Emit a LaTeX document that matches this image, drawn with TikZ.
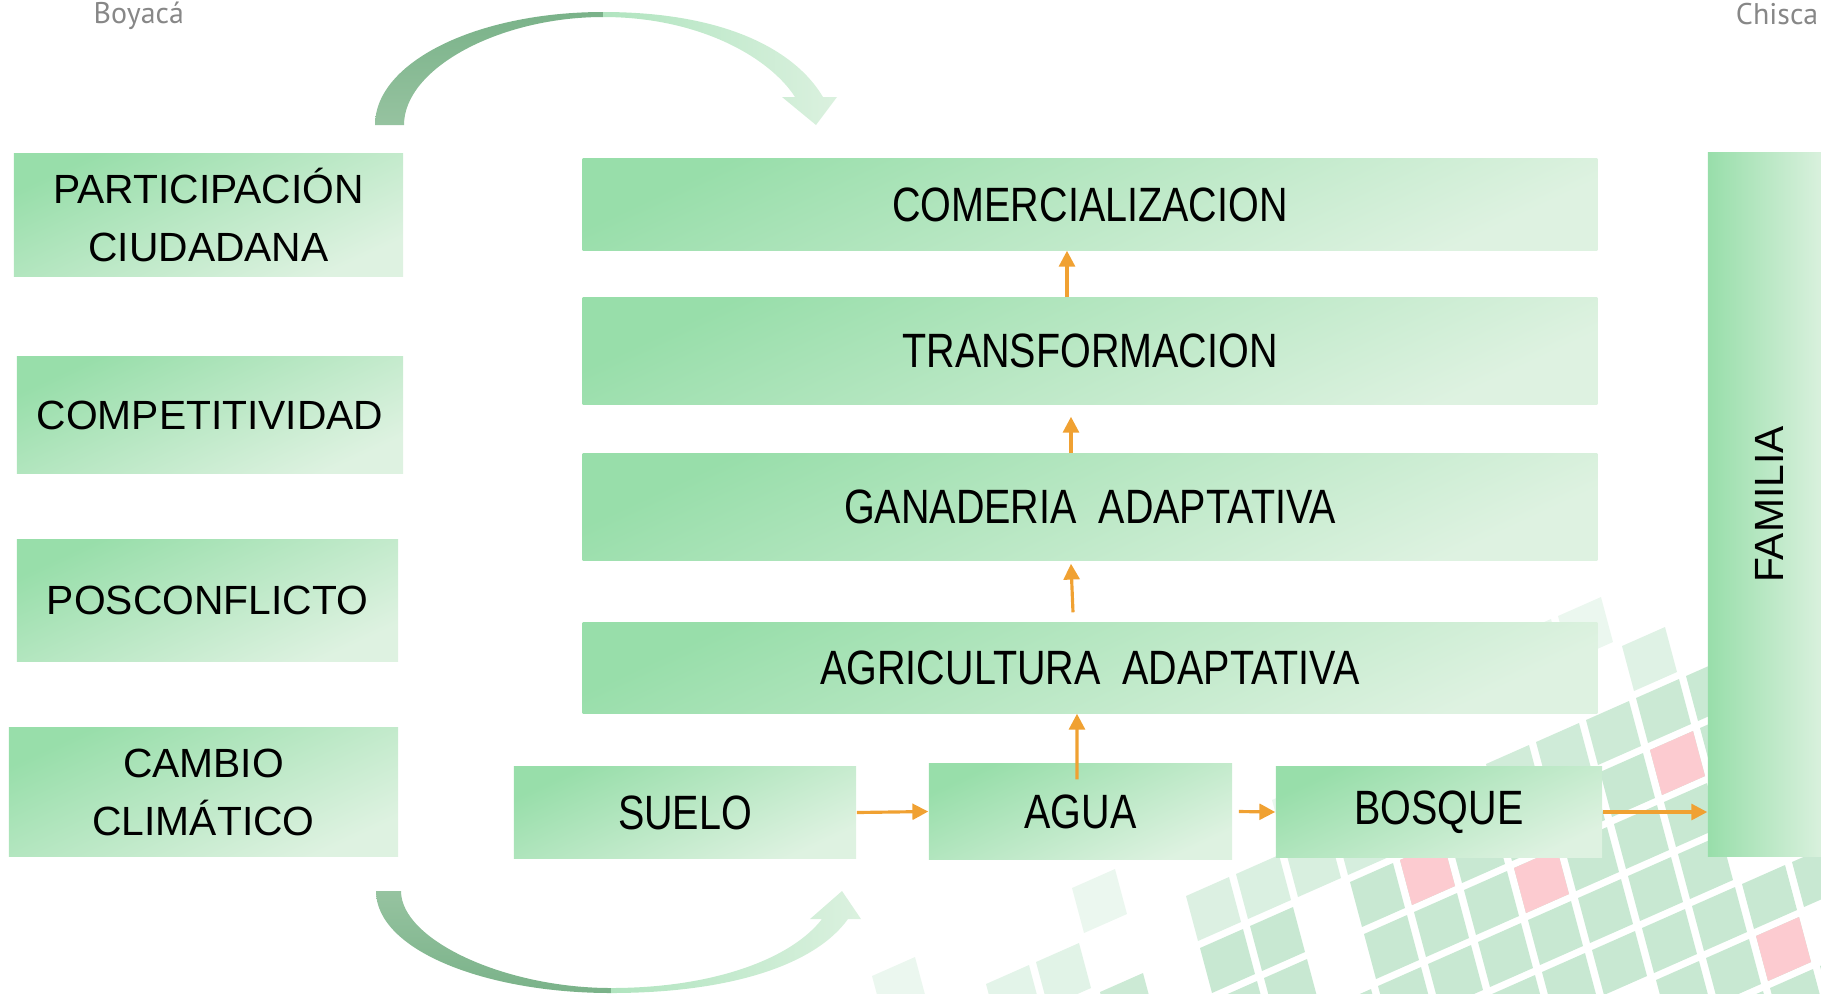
\documentclass[tikz,border=0pt]{standalone}
\usepackage{fontspec}
\setmainfont{Liberation Sans}
\newfontfamily\angosta[FakeStretch=0.82]{Liberation Sans}
\newfontfamily\logofont{PT Sans}
\usepackage{xcolor}
\usepackage{graphicx}
\usepackage{tikz}
\usetikzlibrary{arrows.meta,positioning,calc}

\definecolor{verdeosc}{RGB}{152,222,170}
\definecolor{verdecla}{RGB}{222,242,225}
\definecolor{naranja}{RGB}{240,161,50}
\definecolor{celda}{RGB}{190,228,202}
\definecolor{rosa}{RGB}{252,203,208}
\definecolor{gris}{RGB}{135,135,135}
\definecolor{curvaosc}{RGB}{122,178,137}
\definecolor{curvamed}{RGB}{150,195,160}
\definecolor{curvaclara}{RGB}{176,228,191}
\definecolor{curvapalida}{RGB}{219,241,223}

\tikzset{
	bloque/.style={
			inner sep=0pt,
			top color=verdeosc,
			bottom color=verdecla,
			shading angle=25,
			font=\angosta\fontsize{13.7}{16}\selectfont
		},
	lateral/.style={
			bloque,
			align=center,
			font=\fontsize{11.6}{16.5}\selectfont
		},
	flecha/.style={
			draw=naranja,
			line width=0.9pt,
			-{Triangle[length=4.5pt,width=4.5pt]}
		},
	logo/.style={
			text=gris,
			inner sep=0pt,
			font=\logofont\fontsize{8.5}{10}\selectfont
		}
}

\begin{document}
\begin{tikzpicture}[x=0.01cm, y=-0.01cm]
	\useasboundingbox (0,0) rectangle (1821,993);
	\clip (0,0) rectangle (1821,993);

	% cuadros del fondo
	\pgfmathsetseed{7}
	\foreach \i in {-17,...,7}{
		\foreach \j in {-6,...,8}{
			\pgfmathsetmacro{\cx}{1650+\i*50+\j*14}
			\pgfmathsetmacro{\cy}{750-\i*22+\j*52}
			\pgfmathsetmacro{\dd}{((\cx-880)*0.520+(\cy-1000)*0.941)/1.075+35}
			\pgfmathsetmacro{\op}{min(0.85,max(0.3,\dd/170))}
			\pgfmathtruncatemacro{\keep}{(\dd>0)&&(rnd>0.1+0.6*(1-min(1,\dd/170)))}
			\ifnum\keep=1
				\fill[celda, opacity=\op] (\cx,\cy) -- ++(43,-19) -- ++(12,45) -- ++(-43,19) -- cycle;
			\fi
		}
	}
	\foreach \i/\j in {0/0,1/4,-3/1,-5/0}{
		\pgfmathsetmacro{\cx}{1650+\i*50+\j*14}
		\pgfmathsetmacro{\cy}{750-\i*22+\j*52}
		\fill[rosa] (\cx,\cy) -- ++(43,-19) -- ++(12,45) -- ++(-43,19) -- cycle;
	}

	\node[logo, anchor=base west] (boyaca) at (93,23) {Boyacá};
	\node[logo, anchor=base east] (chisca) at (1819,24) {Chisca};

	% flechas curvas
	\shade[top color=curvaosc, bottom color=curvamed] (375,125) .. controls (375,62) and (477,12) .. (603,12) -- (603,17) .. controls (500,17) and (404,68) .. (404,125) -- cycle;
	\shade[left color=curvaclara, right color=curvapalida] (603,12) .. controls (725,12) and (795,50) .. (823,97) -- (837,97) -- (816,125) -- (782,97) -- (795,97) .. controls (770,58) and (700,17) .. (603,17) -- cycle;
	\shade[top color=curvamed, bottom color=curvaosc] (376,891) .. controls (376,950) and (485,993) .. (611,993) -- (611,988) .. controls (505,988) and (401,940) .. (401,891) -- cycle;
	\shade[left color=curvaclara, right color=curvapalida] (611,993) .. controls (730,993) and (815,965) .. (848,919) -- (861,919) -- (842,891) -- (810,919) -- (822,919) .. controls (792,958) and (715,988) .. (611,988) -- cycle;

	% columna izquierda
	\node[lateral, minimum width=3.89cm, minimum height=1.22cm] (part) at (208.5,215) {PARTICIPACIÓN\\CIUDADANA};
	\node[lateral, minimum width=3.86cm, minimum height=1.16cm] (comp) at (210,415) {COMPETITIVIDAD};
	\node[lateral, minimum width=3.81cm, minimum height=1.21cm] (pos) at (207.5,600.5) {POSCONFLICTO};
	\node[lateral, minimum width=3.89cm, minimum height=1.28cm] (cambio) at (203.5,792) {CAMBIO\\CLIMÁTICO};

	% bloques del centro
	\node[bloque, minimum width=10.14cm, minimum height=0.91cm] (com) at (1090,204.5) {COMERCIALIZACION};
	\node[bloque, minimum width=10.14cm, minimum height=1.06cm] (trans) at (1090,351) {TRANSFORMACION};
	\node[bloque, minimum width=10.14cm, minimum height=1.06cm] (gan) at (1090,507) {GANADERIA\ \ ADAPTATIVA};
	\node[bloque, minimum width=10.14cm, minimum height=0.90cm] (agri) at (1090,668) {AGRICULTURA\ \ ADAPTATIVA};
	\node[bloque, minimum width=3.42cm, minimum height=0.91cm] (suelo) at (685,812.5) {SUELO};
	\node[bloque, minimum width=3.03cm, minimum height=0.95cm] (agua) at (1080.5,811.5) {AGUA};
	\node[bloque, minimum width=3.26cm, minimum height=0.90cm] (bosque) at (1439,812) {BOSQUE};
	\node[bloque, left color=verdeosc, right color=verdecla, minimum width=1.22cm, minimum height=7.03cm, font=\fontsize{11.6}{14}\selectfont] (familia) at (1769,504.5) {\rotatebox{90}{FAMILIA}};

	\draw[flecha] ([xshift=-0.23cm]trans.north) -- ([xshift=-0.23cm]com.south);
	\draw[flecha] ([xshift=-0.19cm]gan.north) -- ([xshift=-0.19cm,yshift=-0.12cm]trans.south);
	\draw[flecha] ([xshift=-0.17cm,yshift=0.1cm]agri.north) -- ([xshift=-0.19cm,yshift=-0.03cm]gan.south);
	\draw[flecha] ([xshift=-0.035cm,yshift=-0.16cm]agua.north) -- ([xshift=-0.13cm]agri.south);
	\draw[flecha] (suelo.east) -- (agua.west);
	\draw[flecha] ([xshift=0.06cm]agua.east) -- (bosque.west);
	\draw[flecha] (bosque.east) -- (bosque.east -| familia.west);
\end{tikzpicture}
\end{document}
